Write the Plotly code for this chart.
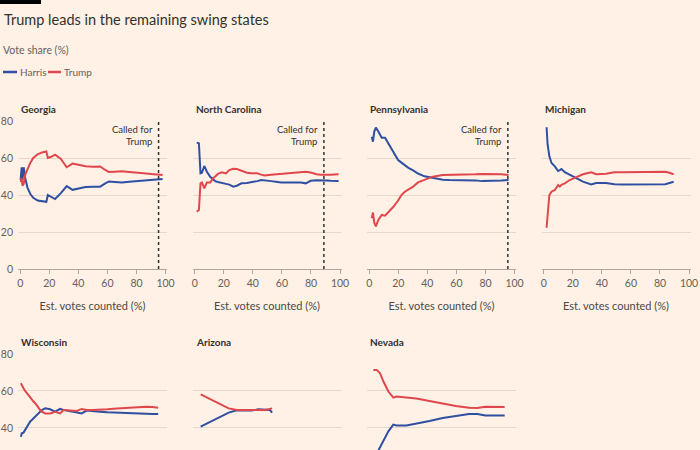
import plotly.graph_objects as go

# ---------------- data ----------------
states = ["Georgia", "North Carolina", "Pennsylvania", "Michigan", "Wisconsin", "Arizona", "Nevada"]

georgia_x = [0.3, 1, 1.6, 2.4, 3.5, 5, 7, 9, 12, 15, 18, 19, 21, 24, 28, 32, 36, 40, 45, 50, 55, 58, 61, 65, 70, 75, 80, 85, 90, 95, 98]
georgia_harris = [48, 55, 48, 55, 49, 44, 40.5, 38.5, 37, 36.5, 36.3, 40, 39.2, 37.8, 41, 44.8, 42.8, 43.5, 44.3, 44.5, 44.5, 46, 47.3, 47, 46.7, 47.2, 47.5, 48, 48.3, 48.5, 48.6]
georgia_trump = [47, 49, 45, 46, 51, 54, 57.5, 60, 62, 63, 63.5, 60, 60.5, 61.8, 59.5, 55, 57, 56.3, 55.5, 55.3, 55.4, 53.8, 52.4, 52.6, 52.8, 52.4, 52.2, 51.7, 51.3, 50.9, 50.8]

nc_x = [1.4, 2.9, 4, 5, 6.6, 8.4, 10.7, 12.5, 14.1, 16, 18.6, 21.5, 23.8, 26.5, 29, 32.2, 36, 39, 43, 45.8, 48, 52.6, 56, 59.4, 63, 66.2, 70, 73, 76.4, 79.8, 83.8, 86.6, 90.7, 93.4, 99]
nc_harris = [68.3, 68, 51.7, 52, 55.7, 52.6, 49.8, 48.5, 47.5, 47, 46.7, 46, 45.6, 44.5, 45, 46.3, 46.5, 46.8, 47.5, 48.1, 47.8, 47.5, 47.2, 46.8, 46.8, 46.8, 46.8, 46.8, 46.3, 47.7, 48, 48.1, 47.9, 47.7, 47.5]
nc_trump = [31, 31.9, 46.3, 46.8, 43.6, 46.8, 46.8, 49, 50, 51.4, 52.3, 51.7, 53.5, 54.2, 54, 52.9, 52, 51.7, 51.7, 51, 50.5, 50.9, 51.2, 51.5, 51.5, 51.9, 52.2, 52.5, 52.6, 52.2, 51.2, 51, 50.8, 51, 51.2]

pa_x = [1.8, 2.6, 3.5, 4.6, 6.3, 8.6, 10.9, 13.1, 16.5, 19.9, 22.2, 24.5, 27, 30.2, 33.6, 38.1, 43.8, 50.6, 55, 59.6, 64, 68.7, 73, 77.8, 82, 86.8, 91, 95.9]
pa_harris = [71.5, 68.8, 74.3, 76.4, 74.3, 71, 71, 67.9, 63.4, 58.9, 57.5, 55.9, 54.7, 53.3, 51.6, 50.1, 49.2, 48.3, 48.1, 48.1, 47.9, 47.7, 47.9, 47.5, 47.5, 47.5, 47.8, 48.1]
pa_trump = [27.4, 30.5, 25, 23, 26.5, 29.2, 28.8, 30.5, 33.5, 37, 40, 41.8, 43, 44.5, 46.8, 48.1, 49.9, 50.8, 50.8, 50.8, 51, 51.2, 51.2, 51.4, 51.4, 51.4, 51.2, 50.8]

mi_x = [2, 2.7, 3.9, 5.4, 7.7, 9.9, 11.1, 12.2, 14.5, 17.9, 22.4, 27, 32.7, 36.1, 42.9, 48.6, 55, 61, 66, 72.3, 78, 83.7, 86.5, 89.4]
mi_harris = [76.6, 67.3, 60.9, 57.3, 55.5, 53, 53.5, 54, 52.3, 50.8, 49, 47.2, 45.7, 46.5, 46.5, 45.8, 45.7, 45.7, 45.8, 45.7, 45.7, 45.8, 46.5, 47.2]
mi_trump = [22.3, 31, 40, 41.8, 42.7, 45.4, 44.5, 45.5, 46.3, 48.1, 49.5, 51.2, 52.3, 51.2, 51.5, 52.3, 52.3, 52.3, 52.3, 52.4, 52.5, 52.6, 52, 51.2]

wi_x = [0.5, 1.1, 2.3, 3.4, 4.6, 5.7, 6.9, 8, 9.2, 10.3, 11.4, 12.6, 13.7, 14.9, 17.2, 20.6, 24, 27.5, 29.8, 32, 34.3, 36.6, 38.9, 42.3, 45.8, 50, 54.9, 60, 66.4, 72, 77.8, 82, 86.9, 91, 94.9]
wi_harris = [35.3, 37.1, 37.5, 38.9, 40.5, 42.5, 43.5, 44.3, 45.2, 46.1, 47, 47.9, 48.8, 49.7, 50.6, 50.1, 48.8, 50.3, 49.8, 49.2, 49, 48.8, 48.5, 47.9, 49.4, 49, 48.8, 48.5, 48.3, 48.1, 47.9, 47.7, 47.4, 47.5, 47.6]
wi_trump = [64.2, 63, 61.5, 60, 58.8, 57.5, 56.1, 55.2, 54.3, 53.4, 52.5, 51, 49.7, 48.8, 47.9, 47.9, 48.8, 47.9, 49.7, 49.5, 49.4, 49.3, 49.2, 50.3, 49.7, 49.7, 49.7, 50.1, 50.6, 50.9, 51.2, 51.4, 51.5, 51.3, 51]

az_x = [4.1, 9.8, 16.6, 23.4, 29, 34.7, 39.2, 43.8, 48.3, 51.7, 53.3]
az_harris = [40.7, 42.9, 45.8, 48.3, 49.6, 49.7, 49.4, 50.1, 50.1, 49.7, 48.3]
az_trump = [58.2, 56, 53, 50.6, 49.7, 49.8, 49.6, 49.7, 49.7, 50.3, 50.6]

nv_x = [2.9, 5.2, 7.5, 9.8, 13.2, 16.6, 18.8, 25.6, 32.4, 41.5, 50.6, 59.6, 68.7, 74.4, 80, 86.8, 93.2]
nv_harris = [22.7, 26.3, 30, 33.7, 38.2, 41.8, 41.3, 41.4, 42.3, 43.8, 45.4, 46.7, 47.6, 47.6, 46.7, 46.7, 46.7]
nv_trump = [71.4, 71.4, 69.6, 65.1, 59.7, 56.4, 57, 56.6, 55.9, 54.6, 53.2, 51.9, 51, 50.8, 51.5, 51.5, 51.3]

called_state = ["Georgia", "North Carolina", "Pennsylvania"]
called_at = [95.2, 88.9, 95.4]

x_ticks = [0, 20, 40, 60, 80, 100]
y_ticks = [0, 20, 40, 60, 80]

series = [
    (georgia_x, georgia_harris, georgia_trump),
    (nc_x, nc_harris, nc_trump),
    (pa_x, pa_harris, pa_trump),
    (mi_x, mi_harris, mi_trump),
    (wi_x, wi_harris, wi_trump),
    (az_x, az_harris, az_trump),
    (nv_x, nv_harris, nv_trump),
]

# ---------------- style ----------------
BG = "#fff1e5"
BLUE = "#2f4fa2"
RED = "#e0474c"
GRID = "#e6d8cb"
AXIS = "#b0a69c"
TXT = "#33302e"
SUB = "#66605c"
FONT = "Lato"
W, H = 700, 450

col_left = [18, 192.5, 367, 541.5]
col_w = 149
top_dom = [1 - 269 / H, 1 - 121 / H]
bot_dom = [0, 1 - 354 / H]

fig = go.Figure()
layout = {}
annotations = []
shapes = []

for i, (st, (xs, hs, ts)) in enumerate(zip(states, series)):
    row, col = divmod(i, 4)
    n = i + 1
    xa = "x" if n == 1 else f"x{n}"
    ya = "y" if n == 1 else f"y{n}"
    fig.add_trace(go.Scatter(x=xs, y=hs, xaxis=xa, yaxis=ya, mode="lines",
                             line=dict(color=BLUE, width=2), name="Harris", showlegend=False))
    fig.add_trace(go.Scatter(x=xs, y=ts, xaxis=xa, yaxis=ya, mode="lines",
                             line=dict(color=RED, width=2), name="Trump", showlegend=False))
    xdom = [col_left[col] / W, (col_left[col] + col_w) / W]
    xkey = "xaxis" if n == 1 else f"xaxis{n}"
    ykey = "yaxis" if n == 1 else f"yaxis{n}"
    xa_d = dict(domain=xdom, range=[-1.5, 101], anchor=ya, showgrid=False, zeroline=False,
                automargin=False, fixedrange=True)
    if row == 0:
        xa_d.update(showline=True, linecolor=AXIS, linewidth=1, ticks="outside", ticklen=4,
                    tickcolor=AXIS, tickvals=x_ticks, tickfont=dict(size=10.5, color=SUB, family=FONT),
                    title=dict(text="Est. votes counted (%)", font=dict(size=11, color="#4d4845", family=FONT),
                               standoff=14))
    else:
        xa_d.update(showline=False, showticklabels=False, ticks="")
    layout[xkey] = xa_d
    ya_d = dict(domain=top_dom if row == 0 else bot_dom,
                range=[0, 80] if row == 0 else [28.1, 80],
                anchor=xa, tickvals=y_ticks, showgrid=True, gridcolor=GRID, gridwidth=1,
                zeroline=False, showline=False, ticks="", automargin=False, fixedrange=True,
                ticklabelstandoff=4,
                showticklabels=(col == 0), tickfont=dict(size=10.5, color=SUB, family=FONT))
    layout[ykey] = ya_d

    annotations.append(dict(text=f"<b>{st}</b>", xref=f"{xa} domain", yref=f"{ya} domain",
                            x=0, y=1, xanchor="left", yanchor="bottom", xshift=1, yshift=4,
                            showarrow=False, font=dict(size=10, color=TXT, family=FONT)))
    if st in called_state:
        cx = called_at[called_state.index(st)]
        shapes.append(dict(type="line", xref=xa, yref=ya, x0=cx, x1=cx, y0=0, y1=80,
                           line=dict(color=TXT, width=1.5, dash="dot")))
        annotations.append(dict(text="Called for<br>Trump", xref=xa, yref=ya, x=cx, y=72,
                                xanchor="right", yanchor="middle", align="right", xshift=-4,
                                showarrow=False, font=dict(size=9.5, color=TXT, family=FONT)))

# header
annotations.append(dict(text="Trump leads in the remaining swing states", xref="paper", yref="paper",
                        x=2 / W, y=1 - 19 / H, xanchor="left", yanchor="middle", showarrow=False,
                        font=dict(size=14.5, color=TXT, family=FONT)))
annotations.append(dict(text="Vote share (%)", xref="paper", yref="paper",
                        x=1 / W, y=1 - 50 / H, xanchor="left", yanchor="middle", showarrow=False,
                        font=dict(size=10.5, color=SUB, family=FONT)))
# legend keys
legend_items = [("Harris", BLUE, 3, 17, 18), ("Trump", RED, 48, 61, 62)]
for name, colr, lx0, lx1, tx in legend_items:
    shapes.append(dict(type="line", xref="paper", yref="paper", x0=lx0 / W, x1=lx1 / W,
                       y0=1 - 72 / H, y1=1 - 72 / H, line=dict(color=colr, width=2.5)))
    annotations.append(dict(text=name, xref="paper", yref="paper", x=tx / W, y=1 - 72 / H,
                            xanchor="left", yanchor="middle", showarrow=False,
                            font=dict(size=10, color=SUB, family=FONT)))
# top black bar
shapes.append(dict(type="rect", xref="paper", yref="paper", x0=0, x1=41 / W, y0=1 - 4 / H, y1=1,
                   fillcolor="#000000", line=dict(width=0)))

fig.update_layout(width=W, height=H, margin=dict(l=0, r=0, t=0, b=0), autosize=False,
                  paper_bgcolor=BG, plot_bgcolor=BG, template="none", showlegend=False,
                  font=dict(family=FONT, color=TXT), annotations=annotations, shapes=shapes, **layout)

fig.write_html("out.html", config={"displayModeBar": False},
               post_script="document.body.style.margin='0';document.body.style.overflow='hidden';")
